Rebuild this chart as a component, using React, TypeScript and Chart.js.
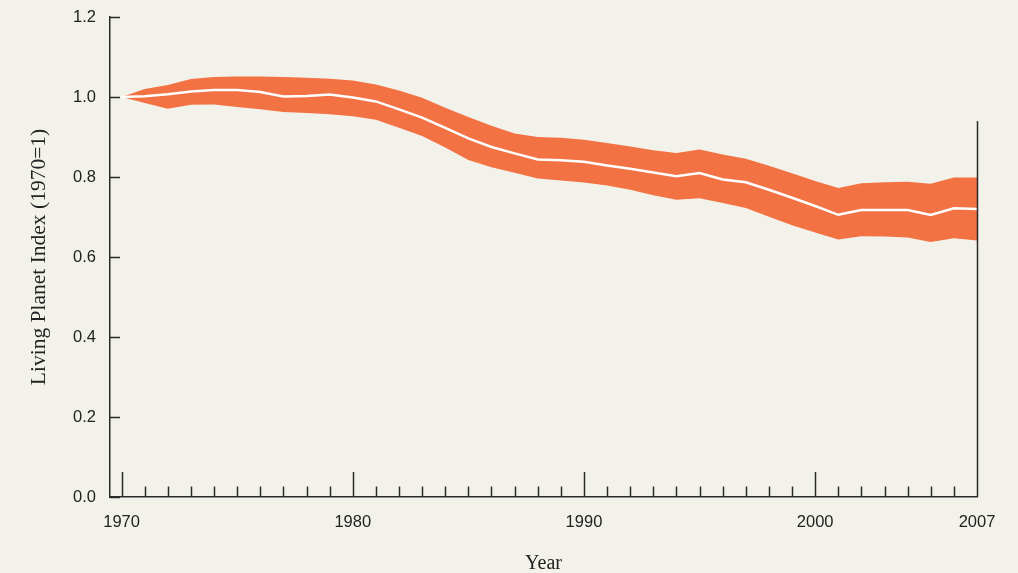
import React, { useEffect, useRef } from 'react';
import { Chart, registerables } from 'chart.js';

Chart.register(...registerables);

const YEARS = [
  1970, 1971, 1972, 1973, 1974, 1975, 1976, 1977, 1978, 1979,
  1980, 1981, 1982, 1983, 1984, 1985, 1986, 1987, 1988, 1989,
  1990, 1991, 1992, 1993, 1994, 1995, 1996, 1997, 1998, 1999,
  2000, 2001, 2002, 2003, 2004, 2005, 2006, 2007,
];
const INDEX = [
  1.0, 1.002, 1.007, 1.014, 1.0175, 1.0175, 1.0125, 1.0015, 1.0025, 1.0065,
  0.999, 0.989, 0.969, 0.9485, 0.923, 0.8965, 0.875, 0.859, 0.844, 0.842,
  0.838, 0.829, 0.8205, 0.8115, 0.802, 0.81, 0.794, 0.787, 0.768, 0.748,
  0.7275, 0.7055, 0.7175, 0.7175, 0.7175, 0.705, 0.722, 0.72,
];
const UPPER = [
  1.0, 1.02, 1.03, 1.045, 1.05, 1.051, 1.051, 1.05, 1.048, 1.0455,
  1.041, 1.031, 1.0165, 0.998, 0.973, 0.95, 0.928, 0.909, 0.9, 0.898,
  0.893, 0.885, 0.876, 0.867, 0.86, 0.869, 0.856, 0.8455, 0.828, 0.8095,
  0.79, 0.7725, 0.7845, 0.787, 0.788, 0.783, 0.799, 0.799,
];
const LOWER = [
  1.0, 0.985, 0.9705, 0.9805, 0.981, 0.975, 0.9695, 0.9625, 0.96, 0.957,
  0.952, 0.943, 0.923, 0.9025, 0.874, 0.8425, 0.8245, 0.8105, 0.7965, 0.791,
  0.786, 0.7785, 0.768, 0.7545, 0.743, 0.747, 0.735, 0.7225, 0.7005, 0.6795,
  0.6615, 0.644, 0.652, 0.651, 0.649, 0.6375, 0.647, 0.641,
];
const X_LABELS = [1970, 1980, 1990, 2000, 2007];
const MAJOR_YEARS = [1970, 1980, 1990, 2000];
const Y_TICKS = [0, 0.2, 0.4, 0.6, 0.8, 1.0, 1.2];
const X_MIN = 1969.5;
const X_MAX = 2007;
const RIGHT_LINE_TOP = 0.94;

const BG = '#f3f2ea';
const BAND = '#f37244';
const AXIS = '#2a2a2a';
const TEXT = '#222222';

const axisPlugin = {
  id: 'axisTicks',
  afterDraw(chart: any) {
    const { ctx, chartArea, scales } = chart;
    const x = scales.x;
    const y = scales.y;
    ctx.save();
    ctx.strokeStyle = AXIS;
    ctx.lineWidth = 1.5;
    ctx.beginPath();
    Y_TICKS.forEach((v) => {
      const py = Math.round(y.getPixelForValue(v)) + 0.5;
      ctx.moveTo(chartArea.left, py);
      ctx.lineTo(chartArea.left + 10, py);
    });
    YEARS.forEach((yr) => {
      if (yr === X_MAX) return;
      const px = Math.round(x.getPixelForValue(yr)) + 0.5;
      const len = MAJOR_YEARS.includes(yr) ? 25 : 10.5;
      ctx.moveTo(px, chartArea.bottom);
      ctx.lineTo(px, chartArea.bottom - len);
    });
    const rx = Math.round(x.getPixelForValue(X_MAX)) + 0.5;
    ctx.moveTo(rx, chartArea.bottom);
    ctx.lineTo(rx, y.getPixelForValue(RIGHT_LINE_TOP));
    ctx.stroke();
    ctx.restore();
  },
};

export default function App() {
  const ref = useRef<HTMLCanvasElement | null>(null);

  useEffect(() => {
    document.body.style.margin = '0';
    document.body.style.background = BG;
    const canvas = ref.current;
    if (!canvas) return;
    const pts = (arr: number[]) => YEARS.map((yr, i) => ({ x: yr, y: arr[i] }));
    const chart = new Chart(canvas, {
      type: 'line',
      data: {
        datasets: [
          {
            label: 'Upper',
            data: pts(UPPER),
            borderWidth: 0,
            borderColor: 'rgba(0,0,0,0)',
            backgroundColor: BAND,
            pointRadius: 0,
            fill: '+1',
            order: 2,
          },
          {
            label: 'Lower',
            data: pts(LOWER),
            borderWidth: 0,
            borderColor: 'rgba(0,0,0,0)',
            backgroundColor: BAND,
            pointRadius: 0,
            fill: false,
            order: 2,
          },
          {
            label: 'Living Planet Index',
            data: pts(INDEX),
            borderWidth: 2.5,
            borderColor: '#ffffff',
            pointRadius: 0,
            fill: false,
            order: 0,
          },
        ],
      },
      options: {
        animation: false,
        responsive: false,
        maintainAspectRatio: false,
        layout: { padding: { left: 0, right: 41, top: 17, bottom: 0 } },
        plugins: { legend: { display: false }, tooltip: { enabled: false } },
        elements: { line: { tension: 0 } },
        scales: {
          x: {
            type: 'linear',
            min: X_MIN,
            max: X_MAX,
            afterBuildTicks: (s: any) => {
              s.ticks = X_LABELS.map((v) => ({ value: v }));
            },
            afterFit: (s: any) => {
              s.height = 76;
              s.paddingLeft = 0;
              s.paddingRight = 0;
            },
            ticks: {
              autoSkip: false,
              maxRotation: 0,
              padding: 16,
              color: TEXT,
              font: { family: 'Liberation Sans, Arial, sans-serif', size: 16.5 },
              callback: (v: any) => String(v),
            },
            grid: { display: true, drawOnChartArea: false, drawTicks: false },
            border: { display: true, color: AXIS, width: 1.5 },
            title: {
              display: true,
              text: 'Year',
              color: TEXT,
              font: { family: 'Liberation Serif, Times New Roman, serif', size: 20 },
              padding: { top: 0, bottom: -3 },
            },
          },
          y: {
            type: 'linear',
            min: 0,
            max: 1.2,
            afterBuildTicks: (s: any) => {
              s.ticks = Y_TICKS.map((v) => ({ value: v }));
            },
            afterFit: (s: any) => {
              s.width = 110;
              s.paddingTop = 0;
              s.paddingBottom = 0;
            },
            ticks: {
              padding: 14,
              color: TEXT,
              font: { family: 'Liberation Sans, Arial, sans-serif', size: 16.5 },
              callback: (v: any) => Number(v).toFixed(1),
            },
            grid: { display: true, drawOnChartArea: false, drawTicks: false },
            border: { display: true, color: AXIS, width: 1.5 },
            title: {
              display: true,
              text: 'Living Planet Index (1970=1)',
              color: TEXT,
              font: { family: 'Liberation Serif, Times New Roman, serif', size: 21.5 },
              padding: { top: 26, bottom: 0 },
            },
          },
        },
      },
      plugins: [axisPlugin],
    });
    return () => chart.destroy();
  }, []);

  return (
    <div style={{ width: 1018, height: 573, background: BG }}>
      <canvas ref={ref} width={1018} height={573} style={{ display: 'block' }} />
    </div>
  );
}
